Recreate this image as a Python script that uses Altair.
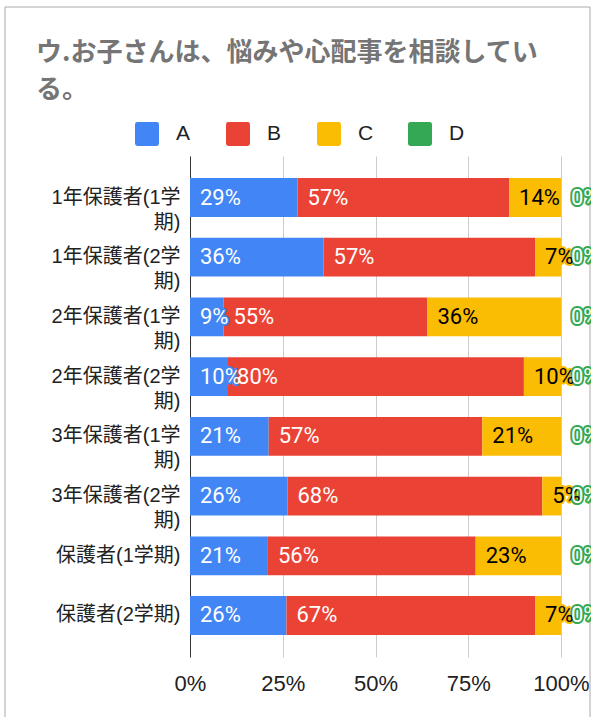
import altair as alt
import pandas as pd

categories = ["1年保護者(1学期)", "1年保護者(2学期)", "2年保護者(1学期)", "2年保護者(2学期)",
              "3年保護者(1学期)", "3年保護者(2学期)", "保護者(1学期)", "保護者(2学期)"]
series = ["A", "B", "C", "D"]
vals_A = [29, 36, 9, 10, 21, 26, 21, 26]
vals_B = [57, 57, 55, 80, 57, 68, 56, 67]
vals_C = [14, 7, 36, 10, 21, 5, 23, 7]
vals_D = [0, 0, 0, 0, 0, 0, 0, 0]
colors = ["#4285F4", "#EA4335", "#FBBC04", "#34A853"]
text_colors = ["#ffffff", "#ffffff", "#000000", "#ffffff"]
x_ticks = [0, 0.25, 0.5, 0.75, 1.0]

rows = []
for s, vals, tc in zip(series, [vals_A, vals_B, vals_C, vals_D], text_colors):
    for c, v in zip(categories, vals):
        rows.append({"category": c, "series": s, "value": v, "label": f"{v}%", "tc": tc})
df = pd.DataFrame(rows)

FONT = "Liberation Sans, Arial, Noto Sans CJK JP, sans-serif"
LFONT = "Roboto, Noto Sans, sans-serif"
rounded = "M-0.8,-1H0.8Q1,-1,1,-0.8V0.8Q1,1,0.8,1H-0.8Q-1,1,-1,0.8V-0.8Q-1,-1,-0.8,-1Z"

base = alt.Chart(df).transform_stack(
    stack="value", groupby=["category"], sort=[alt.SortField("series", order="ascending")],
    as_=["x0", "x1"], offset="normalize"
)

y_enc = alt.Y(
    "category:N", sort=categories, title=None,
    scale=alt.Scale(paddingInner=0.35, paddingOuter=0.37),
    axis=alt.Axis(
        labelExpr="length(datum.label) > 8 ? [substring(datum.label, 0, 8), substring(datum.label, 8)] : datum.label",
        labelFontSize=20, labelFont=FONT, labelColor="#222222", labelLineHeight=25,
        labelPadding=10, ticks=False, domain=True, domainColor="#333333", grid=False,
        labelLimit=300,
    ),
)

x_scale = alt.Scale(domain=[0, 1])
x_axis = alt.Axis(values=x_ticks, format="%", grid=True, gridColor="#cccccc", ticks=False,
                  domain=False, labelFontSize=22, labelFont=FONT, labelColor="#222222",
                  labelPadding=16, title=None, labelFlush=False)

bars = base.mark_bar().encode(
    x=alt.X("x0:Q", scale=x_scale, axis=x_axis),
    x2="x1:Q",
    y=y_enc,
    color=alt.Color("series:N", scale=alt.Scale(domain=series, range=colors),
                    legend=alt.Legend(title=None)),
)

halo = base.mark_text(align="left", baseline="middle", dx=10, fontSize=22, font=LFONT,
                      strokeWidth=4, strokeJoin="round").encode(
    x=alt.X("x0:Q", scale=x_scale),
    y=alt.Y("category:N", sort=categories),
    text="label:N",
    stroke=alt.Stroke("series:N", scale=alt.Scale(domain=series, range=colors), legend=None),
    fill=alt.Fill("series:N", scale=alt.Scale(domain=series, range=colors), legend=None),
)

labels = base.mark_text(align="left", baseline="middle", dx=10, fontSize=22, font=LFONT).encode(
    x=alt.X("x0:Q", scale=x_scale),
    y=alt.Y("category:N", sort=categories),
    text="label:N",
    color=alt.Color("tc:N", scale=None),
)

frame = alt.Chart(pd.DataFrame({"k": [0]})).mark_rect(
    fill=None, stroke="#aaaaaa", strokeWidth=1
).encode(x=alt.value(-185), x2=alt.value(400), y=alt.value(-149), y2=alt.value(600))

chart = alt.layer(frame, bars, halo, labels).properties(
    width=371, height=501,
    padding={"left": 190, "top": 156, "right": 30, "bottom": 60},
    autosize=alt.AutoSizeParams(type="none"),
    title=alt.Title(
        ["ウ.お子さんは、悩みや心配事を相談してい", "る。"],
        anchor="start", frame="group", dx=-154, dy=96, fontSize=26, fontWeight="bold",
        color="#757575", font="Noto Sans CJK JP, sans-serif", lineHeight=37, offset=0,
    ),
).configure_view(stroke=None).configure_legend(
    orient="none", legendX=-55, legendY=-34, direction="horizontal", columns=4,
    symbolType=rounded, symbolSize=576, symbolStrokeWidth=0, labelFontSize=21,
    labelFont=FONT, labelColor="#222222", labelOffset=17, columnPadding=34,
    gridAlign="all", padding=0,
)

chart.save("out.html", embed_options={"renderer": "svg", "actions": False})
